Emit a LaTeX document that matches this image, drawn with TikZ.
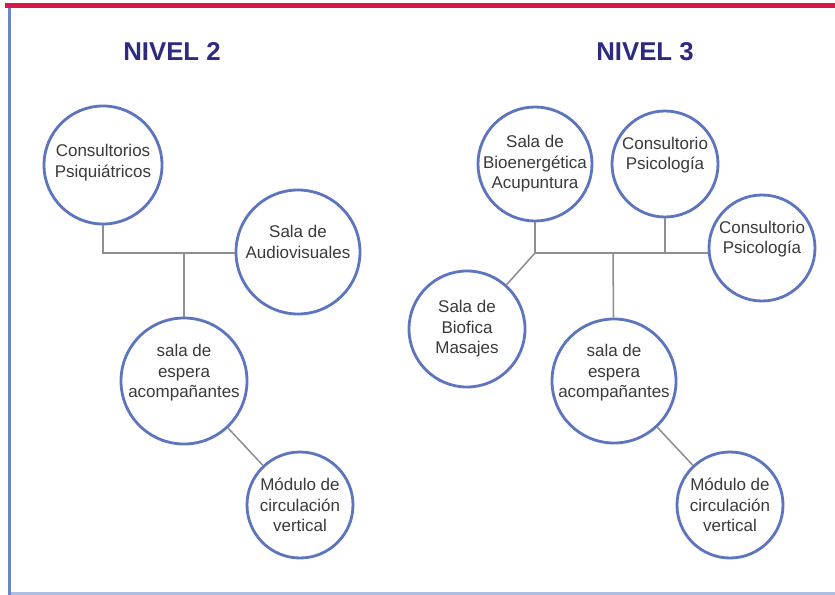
\documentclass[tikz,border=0pt]{standalone}
\usepackage{fontspec}
\setmainfont{Liberation Sans}
\usetikzlibrary{positioning}
\definecolor{circblue}{HTML}{5D74BE}
\definecolor{linegray}{HTML}{8E8E8E}
\definecolor{titblue}{HTML}{2E2A80}
\definecolor{txtgray}{HTML}{3A3A3A}
\definecolor{topred}{HTML}{D8174B}
\definecolor{sideblue}{HTML}{6F85C9}
\definecolor{botblue}{HTML}{AFBDE3}
\tikzset{
  sala/.style={circle, draw=circblue, line width=2.4pt, fill=white, inner sep=0pt},
  txt/.style={align=center, text=txtgray, font=\fontsize{14.5pt}{17.5pt}\selectfont},
  titulo/.style={text=titblue, font=\fontsize{22pt}{26pt}\selectfont\bfseries},
  enlace/.style={draw=linegray, line width=1.3pt}
}
\begin{document}
\begin{tikzpicture}[x=0.03cm, y=-0.03cm]
        \useasboundingbox[fill=white] (0,0) rectangle (835,595);
        \fill[topred] (5,3) rectangle (835,8);
        \fill[sideblue] (7.5,8) rectangle (10.5,595);
        \fill[botblue] (10.5,592) rectangle (835,595);

        \node[titulo] (tit2) at (172,52) {NIVEL 2};
        \node[titulo] (tit3) at (645,52) {NIVEL 3};

        \coordinate (j2) at (184,253);
        \coordinate (j3a) at (535,253);
        \coordinate (j3b) at (613,253);

        \node[sala, minimum size=3.54cm] (psiq) at (103,165) {};
        \node[sala, minimum size=3.72cm] (audio) at (298,252) {};
        \node[sala, minimum size=3.78cm] (esp2) at (184,381) {};
        \node[sala, minimum size=3.18cm] (mod2) at (300,505) {};

        \node[sala, minimum size=3.42cm] (bio) at (535,164) {};
        \node[sala, minimum size=3.18cm] (psi1) at (665,164) {};
        \node[sala, minimum size=3.18cm] (psi2) at (762,248) {};
        \node[sala, minimum size=3.48cm] (biof) at (467,329) {};
        \node[sala, minimum size=3.72cm] (esp3) at (614,381) {};
        \node[sala, minimum size=3.18cm] (mod3) at (730,505) {};

        \draw[enlace] (psiq) |- (j2) -- (audio.west |- j2);
        \draw[enlace] (j2) -- (esp2);
        \draw[enlace] (esp2) -- (mod2);

        \draw[enlace] (bio) -- (j3a) -- (psi2.west |- j3a);
        \draw[enlace] (psi1) -- (psi1 |- j3a);
        \draw[enlace] (j3a) -- (biof);
        \draw[enlace] (j3b) -- (esp3);
        \draw[enlace] (esp3) -- (mod3);

        \node[txt] at ([yshift=.07cm]psiq) {Consultorios\\Psiquiátricos};
        \node[txt] at ([yshift=.3cm]audio) {Sala de\\Audiovisuales};
        \node[txt] at ([yshift=.24cm]esp2) {sala de\\espera\\acompañantes};
        \node[txt] at (mod2) {Módulo de\\circulación\\vertical};

        \node[txt] at (bio) {Sala de\\Bioenergética\\Acupuntura};
        \node[txt] at ([yshift=.27cm]psi1) {Consultorio\\Psicología};
        \node[txt] at ([yshift=.27cm]psi2) {Consultorio\\Psicología};
        \node[txt] at (biof) {Sala de\\Biofica\\Masajes};
        \node[txt] at ([yshift=.24cm]esp3) {sala de\\espera\\acompañantes};
        \node[txt] at (mod3) {Módulo de\\circulación\\vertical};
    \end{tikzpicture}
\end{document}
